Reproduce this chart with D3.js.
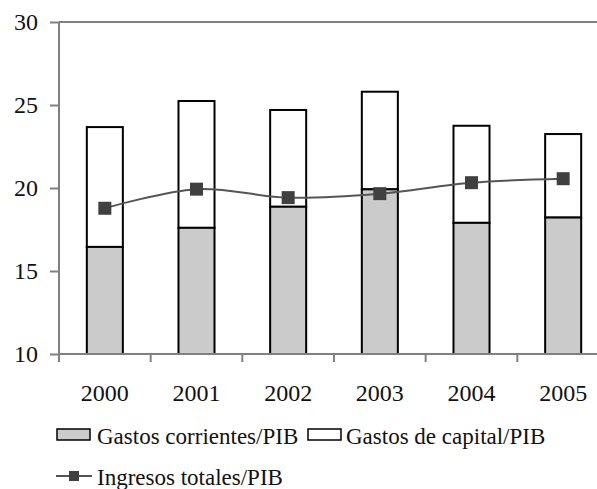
<!DOCTYPE html>
<html>
<head>
    <meta charset="UTF-8">
    <script src="https://d3js.org/d3.v7.min.js"></script>
</head>
<body style="margin:0">
    <script>
        const years = ['2000', '2001', '2002', '2003', '2004', '2005'];
        const gastosCorrientes = [16.45, 17.6, 18.87, 19.92, 17.9, 18.22];
        const gastosCapital = [7.22, 7.64, 5.83, 5.88, 5.85, 5.03];
        const ingresosTotales = [18.78, 19.93, 19.42, 19.66, 20.32, 20.56];
        const yTicks = [10, 15, 20, 25, 30];

        // font name built from parts
        const fam = ['Liberation', 'Serif'].join(' ');
        const fontStack = `"${fam}", "Times New Roman", Tinos, serif`;

        const width = 597;
        const height = 489;
        const plotLeft = 59, plotRight = 609, plotTop = 22, plotBottom = 354;

        const svg = d3.select('body')
            .append('svg')
            .attr('width', width)
            .attr('height', height)
            .style('display', 'block')
            .style('font-family', fontStack);

        const x = d3.scaleBand()
            .domain(years)
            .range([plotLeft, plotRight])
            .paddingInner(0.607)
            .paddingOuter(0.3035);

        const y = d3.scaleLinear()
            .domain([10, 30])
            .range([plotBottom, plotTop]);

        const data = years.map((yr, i) => ({
            year: yr,
            corr: gastosCorrientes[i],
            cap: gastosCapital[i],
            ing: ingresosTotales[i]
        }));

        // top border line at 30
        svg.append('line')
            .attr('x1', plotLeft).attr('x2', width)
            .attr('y1', y(30)).attr('y2', y(30))
            .attr('stroke', '#808080')
            .attr('stroke-width', 2);

        // bars
        const bars = svg.append('g');
        bars.selectAll('rect.cap')
            .data(data)
            .join('rect')
            .attr('class', 'cap')
            .attr('x', d => x(d.year))
            .attr('width', x.bandwidth())
            .attr('y', d => y(d.corr + d.cap))
            .attr('height', d => y(d.corr) - y(d.corr + d.cap))
            .attr('fill', '#fff')
            .attr('stroke', '#000')
            .attr('stroke-width', 2);

        bars.selectAll('rect.corr')
            .data(data)
            .join('rect')
            .attr('class', 'corr')
            .attr('x', d => x(d.year))
            .attr('width', x.bandwidth())
            .attr('y', d => y(d.corr))
            .attr('height', d => y(10) - y(d.corr))
            .attr('fill', '#cbcbcb')
            .attr('stroke', '#000')
            .attr('stroke-width', 2);

        // axes
        const yAxis = svg.append('g')
            .attr('transform', `translate(${plotLeft},0)`)
            .call(d3.axisLeft(y).tickValues(yTicks).tickSize(9).tickSizeOuter(0).tickPadding(12));
        yAxis.select('.domain').attr('d', `M0,${plotTop}V${plotBottom + 8}`);

        const xAxis = svg.append('g')
            .attr('transform', `translate(0,${plotBottom})`)
            .call(d3.axisBottom(x).tickSize(0).tickSizeOuter(0).tickPadding(30));
        xAxis.select('.domain').attr('d', `M${plotLeft},0H${width}`);

        [yAxis, xAxis].forEach(ax => {
            ax.attr('font-family', fontStack).attr('font-size', 24);
            ax.selectAll('path, line').attr('stroke', '#808080').attr('stroke-width', 2);
            ax.selectAll('text')
                .style('font-family', fontStack)
                .attr('font-size', 24)
                .attr('fill', '#111');
        });

        // ticks between bands
        const step = x.step();
        xAxis.selectAll('line.sep')
            .data(years)
            .join('line')
            .attr('class', 'sep')
            .attr('x1', (d, i) => plotLeft + i * step)
            .attr('x2', (d, i) => plotLeft + i * step)
            .attr('y1', 0).attr('y2', 8)
            .attr('stroke', '#808080')
            .attr('stroke-width', 2);

        // ingresos line
        const cx = d => x(d.year) + x.bandwidth() / 2;
        const line = d3.line()
            .x(cx)
            .y(d => y(d.ing))
            .curve(d3.curveCatmullRom.alpha(0.5));

        svg.append('path')
            .datum(data)
            .attr('d', line)
            .attr('fill', 'none')
            .attr('stroke', '#555')
            .attr('stroke-width', 2);

        svg.append('g')
            .selectAll('rect')
            .data(data)
            .join('rect')
            .attr('x', d => cx(d) - 6.5)
            .attr('y', d => y(d.ing) - 6.5)
            .attr('width', 13)
            .attr('height', 13)
            .attr('fill', '#404040');

        // legend
        const legend = svg.append('g');

        legend.append('rect')
            .attr('x', 57).attr('y', 429).attr('width', 33).attr('height', 11)
            .attr('fill', '#cbcbcb').attr('stroke', '#000').attr('stroke-width', 1.5);
        legend.append('text')
            .attr('x', 97).attr('y', 444)
            .text('Gastos corrientes/PIB');

        legend.append('rect')
            .attr('x', 308).attr('y', 429).attr('width', 33).attr('height', 11)
            .attr('fill', '#fff').attr('stroke', '#000').attr('stroke-width', 1.5);
        legend.append('text')
            .attr('x', 346).attr('y', 444)
            .text('Gastos de capital/PIB');

        legend.append('line')
            .attr('x1', 56).attr('x2', 92).attr('y1', 476).attr('y2', 476)
            .attr('stroke', '#555').attr('stroke-width', 2);
        legend.append('rect')
            .attr('x', 69).attr('y', 471).attr('width', 10).attr('height', 10)
            .attr('fill', '#404040');
        legend.append('text')
            .attr('x', 97).attr('y', 485)
            .text('Ingresos totales/PIB');

        legend.selectAll('text')
            .style('font-family', fontStack)
            .attr('font-size', 23)
            .attr('fill', '#111');
    </script>
</body>
</html>
